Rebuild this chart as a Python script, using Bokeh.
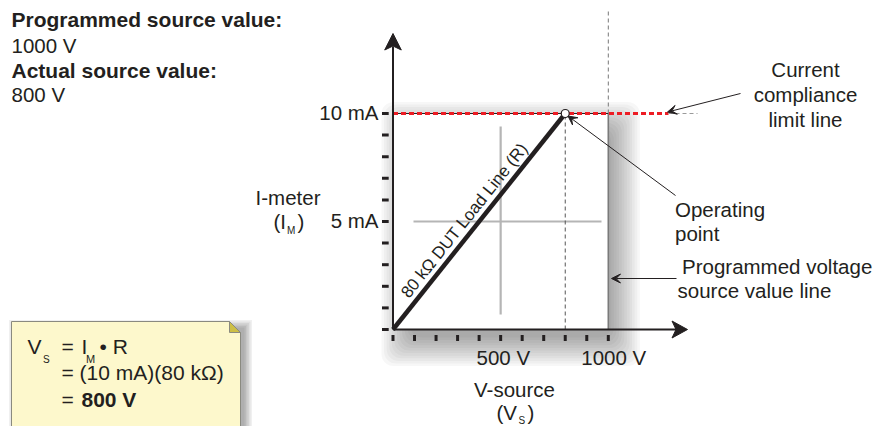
import math
from bokeh.plotting import figure
from bokeh.models import Range1d, Arrow, VeeHead
from bokeh.core.properties import value
from bokeh.embed import file_html
from bokeh.resources import INLINE

# ---------------- data ----------------
programmed_source_v = 1000      # V
actual_source_v = 800           # V
compliance_ma = 10              # mA
load_kohm = 80                  # kOhm
x_ticks_v = [0, 100, 200, 300, 400, 500, 600, 700, 800, 900, 1000]
y_ticks_ma = [0, 1, 2, 3, 4, 5, 6, 7, 8, 9, 10]
x_label_vals = [500, 1000]
x_label_text = ["500  V", "1000 V"]
y_label_vals = [5, 10]
y_label_text = ["5 mA", "10 mA"]
load_line_v = [0, 800]
load_line_ma = [0, 10]
cross_v = 500
cross_ma = 5

# ---------------- layout helpers ----------------
W, H = 881, 426
OX, OY = 392.5, 329.0      # pixel of origin in the picture
SX = 0.2153                # px per V
SY = 21.6                  # px per mA
BASE_FIX = 0.39            # baseline correction (fraction of font size)


def X(wx):
    return (wx - OX) / SX


def Y(wy):
    return (OY - wy) / SY


def PV(px):
    return px / SX


def PM(px):
    return px / SY


FONT = value("Liberation Sans")
INK = "#231f20"

p = figure(width=W, height=H,
           x_range=Range1d(X(0), X(W)), y_range=Range1d(Y(H), Y(0)),
           x_axis_type=None, y_axis_type=None,
           output_backend="svg", toolbar_location=None, min_border=0,
           outline_line_color=None, background_fill_color="white",
           border_fill_color="white")


def txt(wx, wy, t, size=20.5, align="left", style="normal"):
    """wx, wy: picture pixels of the text anchor / baseline."""
    p.text(x=[X(wx)], y=[Y(wy - BASE_FIX * size)], text=[t],
           text_font=FONT, text_font_size=f"{size}px", text_align=align,
           text_baseline="alphabetic", text_font_style=style, text_color=INK)


# ---------------- soft shadow of plot panel ----------------
N = 12
ls, rs, ts, bs = [], [], [], []
for i in range(N):
    e = 2.6 * i
    ls.append(0 + PV(17 - e))
    rs.append(programmed_source_v + PV(3 + e))
    ts.append(compliance_ma - PM(17 - e))
    bs.append(0 - PM(8 + e))
p.quad(left=ls, right=rs, top=ts, bottom=bs, fill_color="black",
       fill_alpha=0.032, line_color=None, border_radius=12)

# white panel
p.quad(left=[0], right=[programmed_source_v], bottom=[0], top=[compliance_ma],
       fill_color="white", line_color=None)

# crosshair (grey)
p.segment(x0=[X(413), cross_v], y0=[cross_ma, Y(314)],
          x1=[X(601), cross_v], y1=[cross_ma, Y(126)],
          line_color="#b5b5b5", line_width=2.2)

# vertical dashed at operating voltage
p.segment(x0=[actual_source_v], y0=[0], x1=[actual_source_v], y1=[compliance_ma],
          line_color="#555555", line_width=1, line_dash="4 3")
# dashed above programmed line
p.segment(x0=[programmed_source_v], y0=[compliance_ma], x1=[programmed_source_v],
          y1=[Y(10)], line_color="#777777", line_width=1, line_dash="4 3")
# programmed voltage source value line
p.segment(x0=[programmed_source_v], y0=[0], x1=[programmed_source_v],
          y1=[compliance_ma], line_color="#7a7a7a", line_width=1.6)

# compliance limit line
p.segment(x0=[0], y0=[compliance_ma], x1=[programmed_source_v], y1=[compliance_ma],
          line_color=INK, line_width=1)
p.segment(x0=[0], y0=[compliance_ma], x1=[X(668)], y1=[compliance_ma],
          line_color="#ed1c24", line_width=3, line_dash="5 3")
p.segment(x0=[X(668)], y0=[compliance_ma], x1=[X(697)], y1=[compliance_ma],
          line_color="#9a9a9a", line_width=1, line_dash="4 3")

# load line
p.line(load_line_v, load_line_ma, line_color=INK, line_width=4.5)

# axes
p.segment(x0=[0, 0], y0=[0, 0], x1=[0, X(676)], y1=[Y(46), 0],
          line_color=INK, line_width=2)
p.patches(xs=[[0, PV(-8.3), 0, PV(8.3)],
              [X(687), X(671.5), X(675.5), X(671.5)]],
          ys=[[Y(33), Y(49.5), Y(45.5), Y(49.5)],
              [0, PM(8.5), 0, PM(-8.5)]],
          fill_color=INK, line_color=INK, line_width=1)

# ticks
p.segment(x0=[-PV(11)] * len(y_ticks_ma), y0=y_ticks_ma,
          x1=[-PV(4.3)] * len(y_ticks_ma), y1=y_ticks_ma,
          line_color=INK, line_width=3)
p.segment(x0=x_ticks_v, y0=[-PM(5.5)] * len(x_ticks_v),
          x1=x_ticks_v, y1=[-PM(11.5)] * len(x_ticks_v),
          line_color=INK, line_width=3)

# operating point
p.scatter([actual_source_v], [compliance_ma], size=8, fill_color="white",
          line_color=INK, line_width=1.2)

# tick labels (positioned from the tick values)
TS = 20.5
p.text(x=[-PV(14.5)] * len(y_label_vals),
       y=[v - PM(7 - BASE_FIX * TS) for v in y_label_vals], text=y_label_text,
       text_font=FONT, text_font_size=f"{TS}px", text_align="right",
       text_baseline="alphabetic", text_color=INK)
p.text(x=[v + PV(5.5) for v in x_label_vals],
       y=[-PM(36 - BASE_FIX * TS)] * len(x_label_vals), text=x_label_text,
       text_font=FONT, text_font_size=f"{TS}px", text_align="center",
       text_baseline="alphabetic", text_color=INK)

# axis titles
txt(287.5, 205, "I-meter", align="center")
txt(273, 229, "(I")
txt(286.5, 234, "M", size=10)
txt(297, 229, ")")
txt(514, 397, "V-source", align="center")
txt(496, 420, "(V")
txt(518, 424, "S", size=10)
txt(527, 420, ")")

# load line label
ang = math.atan2(load_line_ma[1] * SY, load_line_v[1] * SX)
p.text(x=[X(464)], y=[Y(220)], text=[f"{load_kohm} k\u03a9 DUT Load Line (R)"],
       text_font=FONT, text_font_size="17px", text_align="center",
       text_baseline="middle", text_color=INK, angle=ang)

# top-left description
txt(11, 27, "Programmed source value:", size=21, style="bold")
txt(11, 53, f"{programmed_source_v} V")
txt(11, 78, "Actual source value:", size=21, style="bold")
txt(11, 102, f"{actual_source_v} V")

# right annotations
txt(805, 77, "Current", align="center")
txt(805, 102, "compliance", align="center")
txt(805, 127, "limit line", align="center")
txt(674.5, 216.5, "Operating")
txt(674.5, 241, "point")
txt(681.5, 274, "Programmed voltage")
txt(677, 298, "source value line")

head = dict(size=9, fill_color=INK, line_color=INK, line_width=1)
p.add_layout(Arrow(x_start=X(740), y_start=Y(93), x_end=X(667), y_end=Y(111.5),
                   line_color=INK, line_width=1, end=VeeHead(**head)))
p.add_layout(Arrow(x_start=X(675), y_start=Y(195), x_end=X(567.5), y_end=Y(115.5),
                   line_color=INK, line_width=1, end=VeeHead(**head)))
p.add_layout(Arrow(x_start=X(676), y_start=Y(278), x_end=X(611), y_end=Y(278),
                   line_color=INK, line_width=1, end=VeeHead(**head)))

# ---------------- note box ----------------
sl, sr, st, sb = [], [], [], []
for i in range(6):
    e = 1.5 * i
    sl.append(X(16 - e)); sr.append(X(244 + e)); st.append(Y(327 - e)); sb.append(Y(440))
p.quad(left=sl, right=sr, top=st, bottom=sb, fill_color="black", fill_alpha=0.06,
       line_color=None)
p.patch([X(11), X(229), X(240), X(240), X(11)],
        [Y(321), Y(321), Y(332), Y(440), Y(440)],
        fill_color="#fdf8cc", line_color="#8a8a80", line_width=1)
p.patch([X(229), X(240), X(229)], [Y(321), Y(332), Y(332)],
        fill_color="#cdbf45", line_color="#8a8a80", line_width=1)

BS = 21
txt(27, 354, "V", size=BS)
txt(42.5, 363, "S", size=10)
txt(61, 354, "=", size=BS)
txt(81, 354, "I", size=BS)
txt(85.5, 363, "M", size=11)
txt(99, 354, "\u2022 R", size=BS)
txt(61, 380, f"= ({compliance_ma} mA)({load_kohm} k\u03a9)", size=BS)
txt(61, 407, "=", size=BS)
txt(81, 407, f"{compliance_ma * load_kohm} V", size=BS, style="bold")

open("out.html", "w").write(file_html(p, INLINE))
